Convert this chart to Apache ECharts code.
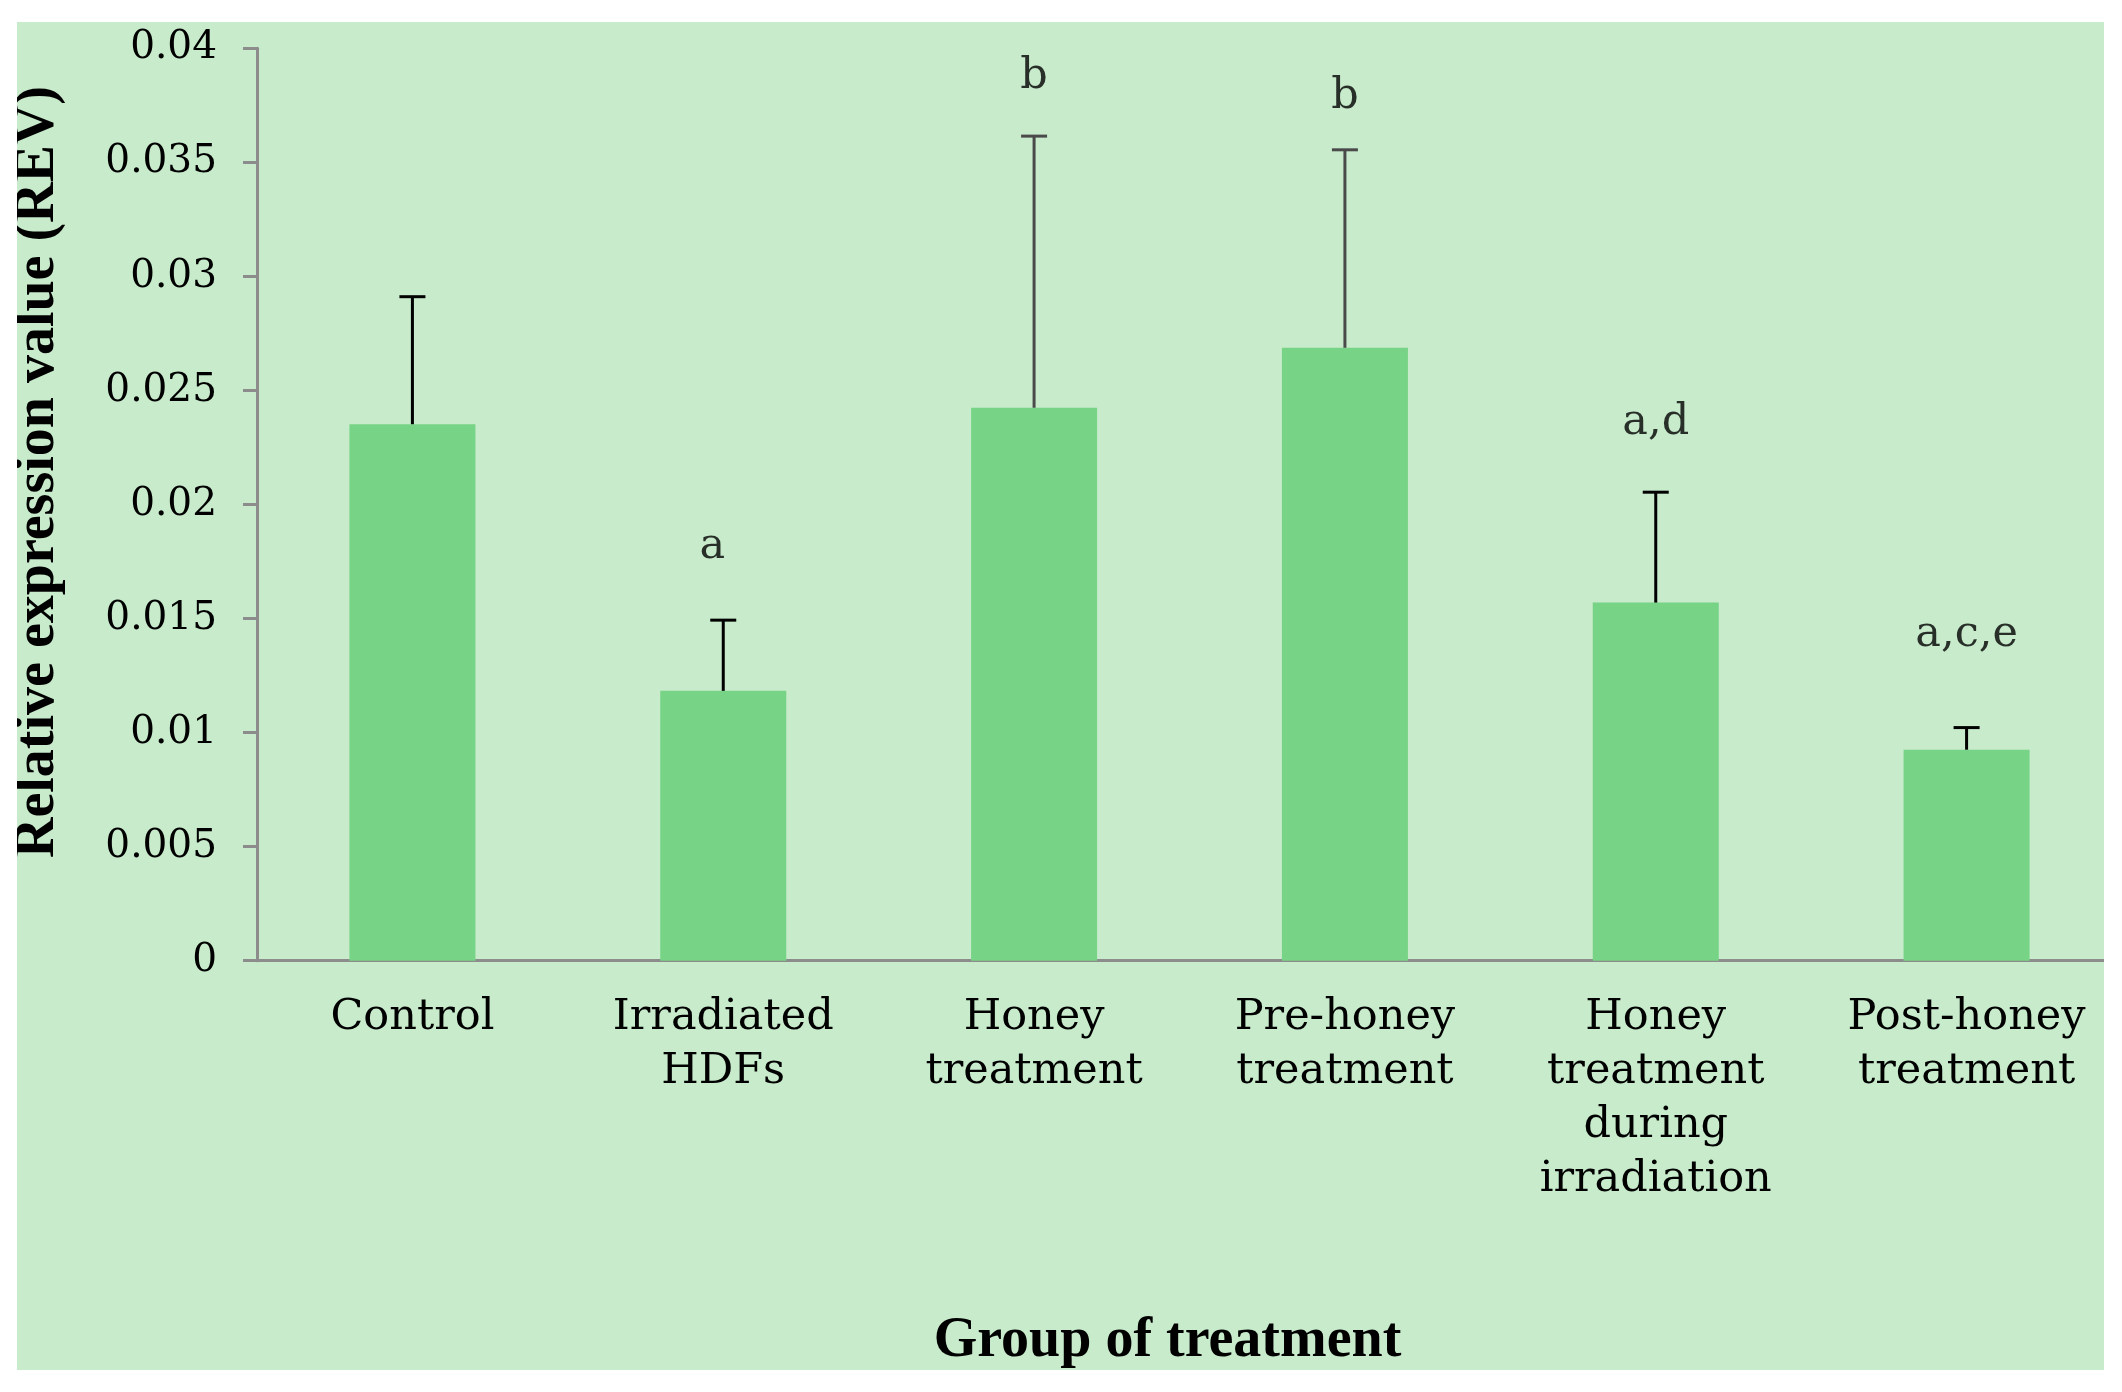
<!DOCTYPE html>
<html>
<head>
<meta charset="utf-8">
<script src="https://cdn.jsdelivr.net/npm/echarts@6/dist/echarts.min.js"></script>
<style>
  html, body { margin: 0; padding: 0; background: #ffffff; width: 2122px; height: 1392px; overflow: hidden; }
  #panel { position: absolute; left: 17px; top: 22px; width: 2087px; height: 1348px; background: #C7EBCB; overflow: hidden; }
  #chart { position: absolute; left: 0; top: 0; width: 2105px; height: 1348px; }
</style>
</head>
<body>
<div id="panel"><div id="chart"></div></div>
<script>
const categories = ['Control', 'Irradiated\nHDFs', 'Honey\ntreatment', 'Pre-honey\ntreatment', 'Honey\ntreatment\nduring\nirradiation', 'Post-honey\ntreatment'];
const meanValues = [0.02352, 0.01183, 0.02424, 0.02687, 0.01570, 0.00925];
const errorValues = [0.00559, 0.00310, 0.01191, 0.00868, 0.00484, 0.00097];
const sigLabels = ['', 'a', 'b', 'b', 'a,d', 'a,c,e'];
const sigLabelY = [null, 0.01814, 0.03874, 0.03786, 0.02357, 0.01428];
const yTickLabels = ['0', '0.005', '0.01', '0.015', '0.02', '0.025', '0.03', '0.035', '0.04'];
const errorColors = ['#000000', '#000000', '#4a4a4a', '#4a4a4a', '#000000', '#000000'];

const chart = echarts.init(document.getElementById('chart'), null, { renderer: 'canvas' });
const serif = '"Liberation Serif", "Times New Roman", serif';
const wideSerif = '"DejaVu Serif", serif';

const option = {
  animation: false,
  backgroundColor: 'transparent',
  grid: { left: 240, top: 26.3, right: 0, height: 912.4, containLabel: false, outerBoundsMode: 'none' },
  xAxis: {
    type: 'category',
    data: categories,
    boundaryGap: true,
    axisLine: { show: true, lineStyle: { color: '#8c8c8c', width: 3 } },
    axisTick: { show: false },
    axisLabel: {
      color: '#000', fontFamily: wideSerif, fontSize: 43, lineHeight: 54, margin: 30, interval: 0
    },
    name: 'Group of treatment',
    nameLocation: 'middle',
    nameGap: 353,
    nameTextStyle: { color: '#000', fontFamily: serif, fontSize: 56, fontWeight: 'bold', padding: [0, 44, 0, 0] }
  },
  yAxis: {
    type: 'value',
    min: 0, max: 0.04, interval: 0.005,
    splitLine: { show: false },
    axisLine: { show: true, lineStyle: { color: '#8c8c8c', width: 3 } },
    axisTick: { show: true, length: 14, lineStyle: { color: '#8c8c8c', width: 3 } },
    axisLabel: {
      color: '#000', fontFamily: wideSerif, fontSize: 39, margin: 40,
      formatter: function (v) { return yTickLabels[Math.round(v / 0.005)]; }
    },
    name: 'Relative expression value (REV)',
    nameLocation: 'middle',
    nameGap: 190,
    nameRotate: 90,
    nameTextStyle: { color: '#000', fontFamily: serif, fontSize: 56, fontWeight: 'bold', padding: [0, 0, 0, 65] }
  },
  series: [
    {
      type: 'bar',
      data: meanValues,
      barWidth: 126,
      itemStyle: { color: '#77D385' },
      z: 2
    },
    {
      type: 'custom',
      data: meanValues.map((v, i) => [i, v, errorValues[i]]),
      z: 3,
      renderItem: function (params, api) {
        const base = api.coord([api.value(0), api.value(1)]);
        const top = api.coord([api.value(0), api.value(1) + api.value(2)]);
        const col = errorColors[params.dataIndex];
        return {
          type: 'group',
          children: [
            { type: 'line', shape: { x1: base[0], y1: base[1], x2: base[0], y2: top[1] }, style: { stroke: col, lineWidth: 3 } },
            { type: 'line', shape: { x1: base[0] - 13, y1: top[1], x2: base[0] + 13, y2: top[1] }, style: { stroke: col, lineWidth: 3 } }
          ]
        };
      }
    },
    {
      type: 'scatter',
      data: sigLabelY.map((v, i) => (i === 1 ? { value: [i, v], label: { offset: [-11, 0] } } : [i, v])),
      symbolSize: 0,
      z: 4,
      label: {
        show: true,
        position: 'inside',
        color: '#000',
        fontFamily: wideSerif,
        fontSize: 43,
        formatter: function (p) { return sigLabels[p.dataIndex]; }
      }
    }
  ]
};
chart.setOption(option);
</script>
</body>
</html>
